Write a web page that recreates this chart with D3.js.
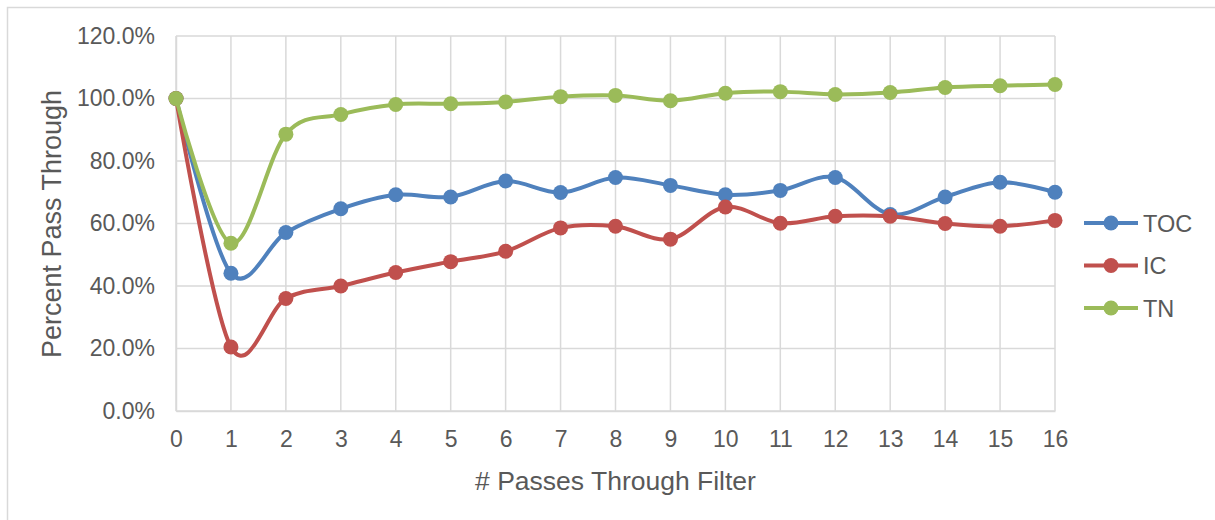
<!DOCTYPE html>
<html>
<head>
<meta charset="utf-8">
<script src="https://cdn.jsdelivr.net/npm/d3@7"></script>
<style>
  body { margin: 0; background: #fff; }
  text { font-family: "Liberation Sans", Arial, sans-serif; fill: #595959; }
</style>
</head>
<body>
<div id="viz-container"></div>
<script>
// data
let passes = [0,1,2,3,4,5,6,7,8,9,10,11,12,13,14,15,16];
let tocValues = [100,44.1,57.1,64.7,69.2,68.5,73.6,69.9,74.7,72.2,69.2,70.6,74.7,62.9,68.5,73.2,70.0];
let icValues  = [100,20.5,36.0,40.0,44.3,47.8,51.1,58.6,59.1,55.0,65.3,60.1,62.3,62.3,60.0,59.1,61.0];
let tnValues  = [100,53.7,88.6,94.9,98.1,98.3,98.9,100.6,101.0,99.3,101.7,102.2,101.3,101.9,103.5,104.1,104.5];
let yTicks = [0,20,40,60,80,100,120];
let seriesNames = ["TOC","IC","TN"];
let seriesColors = ["#4f81bd","#c0504d","#9bbb59"];

let series = [tocValues, icValues, tnValues].map(function(vals, i){
  return {name: seriesNames[i], color: seriesColors[i],
          points: passes.map(function(p, j){ return {x: p, y: vals[j]}; })};
});

//create canvas
let viz = d3.select("#viz-container")
    .append("svg")
    .attr("width",1215)
    .attr("height",520)
;

// outer chart border (only top and left visible)
viz.append("rect")
  .attr("x",7.5).attr("y",7.5)
  .attr("width",1300).attr("height",600)
  .attr("fill","none")
  .attr("stroke","#d9d9d9")
  .attr("stroke-width",1.5)
;

let x = d3.scaleLinear().domain([0,16]).range([176,1055]);
let y = d3.scaleLinear().domain([0,120]).range([411,36]);

// gridlines
viz.append("g").selectAll("line").data(passes).enter()
  .append("line")
  .attr("x1",d=>x(d)).attr("x2",d=>x(d))
  .attr("y1",y(0)).attr("y2",y(120))
  .attr("stroke","#d9d9d9").attr("stroke-width",1.5)
;
viz.append("g").selectAll("line").data(yTicks).enter()
  .append("line")
  .attr("x1",x(0)).attr("x2",x(16))
  .attr("y1",d=>y(d)).attr("y2",d=>y(d))
  .attr("stroke","#d9d9d9").attr("stroke-width",1.5)
;

// axes
let xAxis = viz.append("g")
  .attr("transform","translate(0,"+y(0)+")")
  .call(d3.axisBottom(x).tickValues(passes).tickSize(0).tickPadding(20).tickFormat(d3.format("d")));
let yAxis = viz.append("g")
  .attr("transform","translate("+(x(0))+",0)")
  .call(d3.axisLeft(y).tickValues(yTicks).tickSize(0).tickPadding(21).tickFormat(d=>d.toFixed(1)+"%"));
[xAxis,yAxis].forEach(function(a){
  a.select(".domain").attr("stroke","#d9d9d9").attr("stroke-width",1.5);
  a.selectAll("text").attr("font-size",23).attr("fill","#595959")
    .style("font-family","Liberation Sans, Arial, sans-serif");
});

// axis titles
viz.append("text")
  .attr("x",(x(0)+x(16))/2).attr("y",490)
  .attr("text-anchor","middle").attr("font-size",26.5)
  .text("# Passes Through Filter");
viz.append("text")
  .attr("transform","translate(61,224) rotate(-90)")
  .attr("text-anchor","middle").attr("font-size",27)
  .text("Percent Pass Through");

// lines
let line = d3.line()
  .x(d=>x(d.x)).y(d=>y(d.y))
  .curve(d3.curveCardinal.tension(0));

let groups = viz.selectAll(".series").data(series).enter()
  .append("g").attr("class","series");

groups.append("path")
  .attr("d",d=>line(d.points))
  .attr("fill","none")
  .attr("stroke",d=>d.color)
  .attr("stroke-width",4)
  .attr("stroke-linejoin","round")
;
groups.each(function(s){
  d3.select(this).selectAll("circle").data(s.points).enter()
    .append("circle")
    .attr("cx",d=>x(d.x)).attr("cy",d=>y(d.y))
    .attr("r",7.5)
    .attr("fill",s.color);
});

// legend
let legend = viz.selectAll(".legend").data(series).enter()
  .append("g").attr("class","legend")
  .attr("transform",(d,i)=>"translate(1084,"+(223+i*42.5)+")");
legend.append("line")
  .attr("x1",0).attr("x2",54)
  .attr("stroke",d=>d.color).attr("stroke-width",4);
legend.append("circle")
  .attr("cx",27).attr("r",7.5).attr("fill",d=>d.color);
legend.append("text")
  .attr("x",59).attr("y",8.5).attr("font-size",23.5)
  .text(d=>d.name);
</script>
</body>
</html>
